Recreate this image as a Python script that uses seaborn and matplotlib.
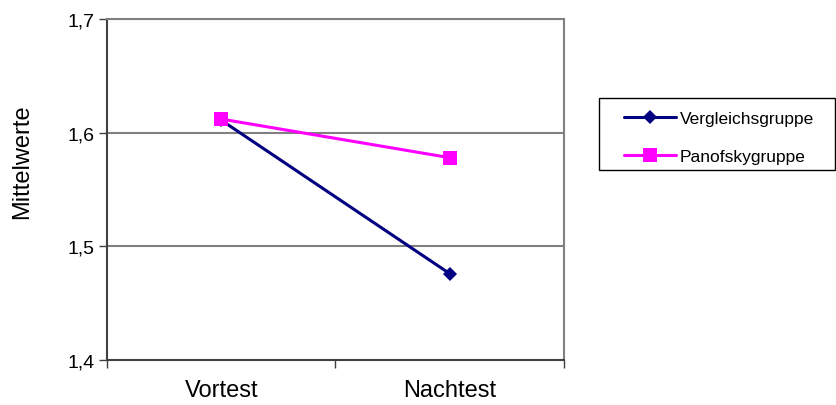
import matplotlib
matplotlib.use("Agg")
import matplotlib.pyplot as plt
import pandas as pd
import seaborn as sns

tests = ["Vortest", "Nachtest"]
vergleich = [1.611, 1.476]
panofsky = [1.612, 1.578]
groups = ["Vergleichsgruppe", "Panofskygruppe"]
y_ticks = [1.4, 1.5, 1.6, 1.7]
y_tick_labels = ["1,4", "1,5", "1,6", "1,7"]

df = pd.DataFrame({
    "Test": tests * 2,
    "Mittelwert": vergleich + panofsky,
    "Gruppe": [groups[0]] * 2 + [groups[1]] * 2,
})

sns.set_style("white")
plt.rcParams["font.family"] = ["Liberation Sans", "DejaVu Sans"]
plt.rcParams["text.color"] = "black"
plt.rcParams["axes.labelcolor"] = "black"
plt.rcParams["xtick.labelcolor"] = "black"
plt.rcParams["ytick.labelcolor"] = "black"

fig = plt.figure(figsize=(8.37, 4.06), dpi=100)
ax = fig.add_axes([0.1278, 0.1108, 0.546, 0.8399])

sns.lineplot(data=df, x="Test", y="Mittelwert", hue="Gruppe", style="Gruppe",
             palette={groups[0]: "#000080", groups[1]: "#FF00FF"},
             markers={groups[0]: "D", groups[1]: "s"},
             dashes=False, linewidth=2.2, markeredgewidth=0, ax=ax, legend=True)
for line in ax.lines:
    if line.get_marker() == "s":
        line.set_markersize(10)
    elif line.get_marker() == "D":
        line.set_markersize(7.5)

ax.set_xlim(-0.5, 1.5)
ax.set_ylim(1.4, 1.7)
ax.set_yticks(y_ticks)
ax.set_yticklabels(y_tick_labels, fontsize=14)
ax.set_xticks([0, 1])
ax.set_xticklabels(tests, fontsize=17)
ax.set_xticks([-0.5, 0.5, 1.5], minor=True)
ax.tick_params(axis="x", which="major", length=0, pad=14)
ax.tick_params(axis="x", which="minor", length=6, width=1, color="#404040", direction="out", bottom=True)
ax.tick_params(axis="y", length=6, width=1, color="#404040", direction="out", left=True, pad=3)
ax.set_xlabel("")
ax.set_ylabel("Mittelwerte", fontsize=17)
ax.yaxis.set_label_coords(-0.162, 0.585)

for y in y_ticks[1:]:
    ax.axhline(y, color="#808080", lw=1.5, zorder=0)

for side in ["left", "bottom"]:
    ax.spines[side].set_color("#404040")
    ax.spines[side].set_linewidth(1.5)
for side in ["top", "right"]:
    ax.spines[side].set_color("#808080")
    ax.spines[side].set_linewidth(1.5)
    ax.spines[side].set_visible(True)

# legend box drawn separately so its size matches the reference
fig.patches.append(plt.Rectangle((599 / 837, 1 - 171 / 406), 236 / 837, 72 / 406,
                                 transform=fig.transFigure, fill=False,
                                 edgecolor="black", lw=1.0))

handles, labels = ax.get_legend_handles_labels()
leg = ax.legend(handles, labels, loc="upper left",
                bbox_to_anchor=(624 / 837, 1 - 112 / 406),
                bbox_transform=fig.transFigure,
                fontsize=12.5, frameon=False,
                handlelength=3.0, handletextpad=0.2, labelspacing=1.32,
                borderpad=0, borderaxespad=0)

fig.savefig("out.png", dpi=100)
